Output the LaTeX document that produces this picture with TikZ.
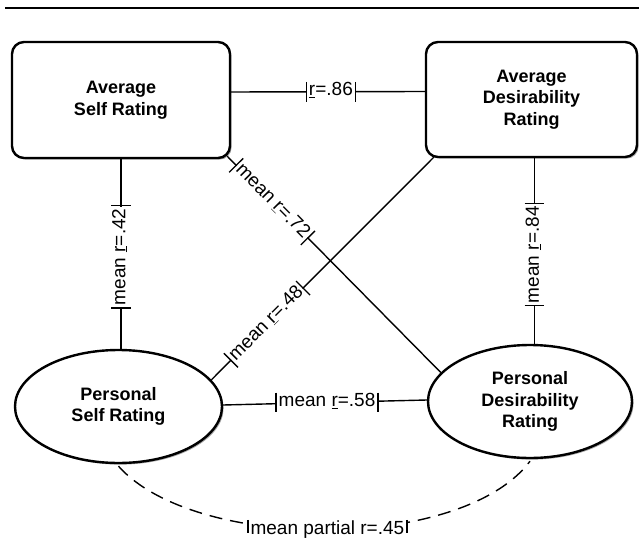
\documentclass[tikz,border=0pt]{standalone}
\usepackage{fontspec}
\setmainfont{Liberation Sans}
\usetikzlibrary{shapes.geometric,shadows}
\begin{document}
\begin{tikzpicture}[x=1pt,y=-1pt,
  shape shadow/.style={drop shadow={shadow xshift=1.6pt,shadow yshift=-1.6pt,fill=black,opacity=0.35}},
  boxnode/.style={draw,line width=2.4pt,rounded corners=12pt,fill=white,shape shadow,
    align=center,inner sep=0pt,font=\fontsize{18}{21.5}\selectfont\bfseries},
  ellnode/.style={draw,ellipse,line width=2.4pt,fill=white,shape shadow,
    align=center,inner sep=0pt,font=\fontsize{18}{21.5}\selectfont\bfseries},
  conn/.style={line width=1.4pt},
  lab/.style={fill=white,inner xsep=2pt,inner ysep=0.5pt,text height=13pt,text depth=4.5pt,
    font=\fontsize{19}{22}\selectfont,
    append after command={(\tikzlastnode.north west) edge[line width=1.3pt] (\tikzlastnode.south west)
                          (\tikzlastnode.north east) edge[line width=1.3pt] (\tikzlastnode.south east)}}
]
\useasboundingbox (0,0) rectangle (639,545);
\coordinate (rl) at (5,8);
\coordinate (rr) at (639,8);
\draw[line width=2pt] (rl) -- (rr);

\node[boxnode,minimum width=218pt,minimum height=116pt] (asr) at (121,100) {Average\\Self Rating};
\node[boxnode,minimum width=211pt,minimum height=115pt] (adr) at (531.5,99.5) {Average\\Desirability\\Rating};
\node[ellnode,minimum width=207pt,minimum height=113pt] (psr) at (118.5,406.5) {Personal\\Self Rating};
\node[ellnode,minimum width=204pt,minimum height=113pt] (pdr) at (530,401.5) {Personal\\Desirability\\Rating};

% top horizontal
\draw[conn] ([yshift=8pt]asr.east) -- node[lab,pos=0.515] (l86) {\underline{r}=.86} ([yshift=8pt]adr.west);
% left vertical
\draw[conn] (asr.south) -- node[lab,pos=0.515,rotate=90] (l42) {mean \underline{r}=.42} (asr.south |- psr.north);
% right vertical
\draw[conn] ([xshift=3pt]adr.south) -- node[lab,pos=0.52,rotate=90] (l84) {mean \underline{r}=.84} ([xshift=3pt]adr.south |- pdr.north);
% diagonals
\draw[conn] ([xshift=-4pt,yshift=3pt]asr.south east) -- node[lab,pos=0.21,sloped] (l72) {mean \underline{r}=.72} (pdr.162);
\draw[conn] ([xshift=9pt,yshift=1pt]adr.south west) -- node[lab,pos=0.75,sloped] (l48) {mean \underline{r}=.48} (psr.16);
% bottom horizontal
\draw[conn] ([yshift=1.5pt]psr.east) -- node[lab,pos=0.51] (l58) {mean \underline{r}=.58} ([yshift=1.5pt]pdr.west);
% dashed curve
\draw[conn,dash pattern=on 13pt off 8pt] ([yshift=-2pt]psr.south) .. controls (195,552) and (462,552) .. ([yshift=-2pt]pdr.south)
  node[lab,pos=0.5] (l45) {mean partial r=.45};
\end{tikzpicture}
\end{document}
